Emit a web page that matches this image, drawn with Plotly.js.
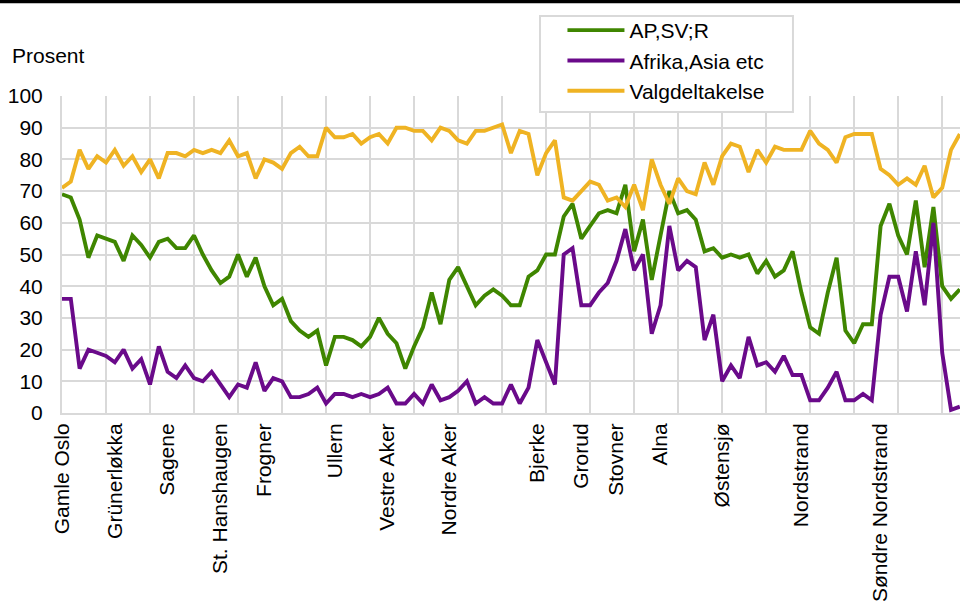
<!DOCTYPE html>
<html>
<head>
<meta charset="utf-8">
<script src="https://cdn.plot.ly/plotly-3.0.1.min.js"></script>
<style>html,body{margin:0;padding:0;background:#fff;}#chart{width:960px;height:601px;}</style>
</head>
<body>
<div id="chart"></div>
<script>
// Series values (one point per polling district, left to right)
const apSvR = [69,68,61,49,56,55,54,48,56,53,49,54,55,52,52,56,50,45,41,43,50,43,49,40,34,36,29,26,24,26,
  15,24,24,23,21,24,30,25,22,14,21,27,38,28,42,46,40,34,37,39,37,34,34,43,45,50,50,62,66,55,
  59,63,64,63,72,51,61,42,56,70,63,64,61,51,52,49,50,49,50,44,48,43,45,51,38,27,25,38,49,26,
  22,28,28,59,66,56,50,67,46,65,40,36,39];
const afrikaAsia = [36,36,14,20,19,18,16,20,14,17,9,21,13,11,15,11,10,13,9,5,9,8,16,7,11,10,5,5,6,8,
  3,6,6,5,6,5,6,8,3,3,6,3,9,4,5,7,10,3,5,3,3,9,3,8,23,16,9,50,52,34,
  34,38,41,48,58,45,50,25,34,59,45,48,46,23,31,10,15,11,24,15,16,13,18,12,12,4,4,8,13,4,
  4,6,4,31,43,43,32,51,34,60,19,1,2];
const valgdeltakelse = [71,73,83,77,81,79,83,78,81,76,80,74,82,82,81,83,82,83,82,86,81,82,74,80,79,77,82,84,81,81,
  90,87,87,88,85,87,88,85,90,90,89,89,86,90,89,86,85,89,89,90,91,82,89,88,75,82,86,68,67,70,
  73,72,67,68,65,72,64,80,72,66,74,70,69,79,72,81,85,84,76,83,79,84,83,83,83,89,85,83,79,87,
  88,88,88,77,75,72,74,72,78,68,71,83,88];

// Category tick labels (district names at the first point of each district)
const districtIndex = [0,6,12,18,23,31,37,44,54,59,63,68,75,84,93];
const districtNames = ["Gamle Oslo","Grünerløkka","Sagene","St. Hanshaugen","Frogner","Ullern","Vestre Aker",
  "Nordre Aker","Bjerke","Grorud","Stovner","Alna","Østensjø","Nordstrand","Søndre Nordstrand"];

const seriesNames = ["AP,SV;R","Afrika,Asia etc","Valgdeltakelse"];
const seriesColors = ["#3f8600","#6a0a8a","#efb323"];

const idx = apSvR.map((_, i) => i);
const allSeries = [apSvR, afrikaAsia, valgdeltakelse];

const traces = allSeries.map((vals, k) => ({
  type: "scatter",
  mode: "lines",
  x: idx,
  y: vals,
  name: seriesNames[k],
  line: {color: seriesColors[k], width: 3.9},
  hoverinfo: "x+y"
}));

const FONT = "'Liberation Sans', Arial, sans-serif";
const GRID = "#d9d9d9";

const layout = {
  width: 960,
  height: 601,
  margin: {l: 62, r: 0, t: 96, b: 188, pad: 0},
  paper_bgcolor: "#ffffff",
  plot_bgcolor: "#ffffff",
  font: {family: FONT, size: 21, color: "#000000"},
  showlegend: true,
  legend: {
    x: 0.5573, y: 1.2713, xanchor: "left", yanchor: "top",
    bgcolor: "rgba(0,0,0,0)", borderwidth: 0,
    font: {family: FONT, size: 21, color: "#000000"},
    itemwidth: 57,
    tracegroupgap: 0
  },
  xaxis: {
    range: [0, 102.02],
    tickmode: "array",
    tickvals: districtIndex,
    ticktext: districtNames,
    tickangle: -90,
    tickfont: {family: FONT, size: 21, color: "#000000"},
    ticks: "",
    showgrid: false,
    minor: {dtick: 5, tick0: 0, showgrid: true, gridcolor: GRID, gridwidth: 2, ticks: ""},
    showline: true, linecolor: GRID, linewidth: 2,
    zeroline: false,
    fixedrange: true
  },
  yaxis: {
    range: [0, 100],
    dtick: 10,
    tick0: 0,
    showgrid: true, gridcolor: GRID, gridwidth: 2,
    showline: true, linecolor: GRID, linewidth: 2,
    zeroline: false,
    ticks: "outside", ticklen: 13, tickcolor: "rgba(0,0,0,0)",
    tickfont: {family: FONT, size: 21, color: "#000000"},
    fixedrange: true
  },
  annotations: [{
    text: "Prosent",
    xref: "paper", yref: "paper",
    x: -0.058, y: 1.129, xanchor: "left", yanchor: "middle",
    showarrow: false,
    font: {family: FONT, size: 21, color: "#000000"}
  }],
  shapes: [{
    type: "rect", xref: "paper", yref: "paper",
    x0: -0.07, x1: 1.0, y0: 1.2924, y1: 1.31,
    fillcolor: "#000000", line: {width: 0}, layer: "above"
  }, {
    type: "rect", xref: "paper", yref: "paper",
    x0: 0.5323, x1: 0.814, y0: 0.9495, y1: 1.2524,
    fillcolor: "#ffffff", line: {color: GRID, width: 2}, layer: "above"
  }]
};

Plotly.newPlot("chart", traces, layout, {displayModeBar: false, staticPlot: true});
</script>
</body>
</html>
